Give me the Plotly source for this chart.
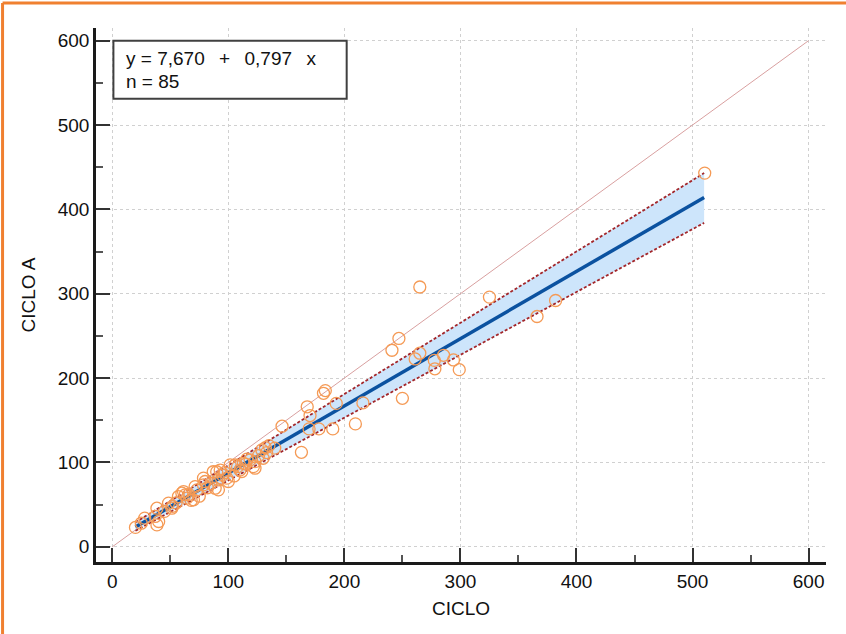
import plotly.graph_objects as go

# ---- data ----
ciclo = [510.5, 382, 366, 325, 265, 299, 278, 294, 285.5, 277.5, 265, 261, 247, 241, 250,
         216, 209.5, 193, 183.6, 182, 168, 170.4, 169.6, 178, 190, 146.3, 163, 140, 132, 133,
         116, 123, 106, 110, 121.6, 123, 101.6, 113, 118.8, 128.9, 111.6, 90, 93, 87, 91.5,
         98.7, 100, 91.5, 88.7, 78.6, 80, 78.6, 73, 70, 62.8, 61.4, 57, 48.5, 38.5, 40,
         20, 28, 38.5, 37, 51.3, 60, 64.3, 71.4, 25, 45, 55, 66, 75, 82, 85, 95,
         97, 105, 108, 115, 126, 130, 135, 68, 52]
ciclo_a = [443, 292, 273, 296, 308, 210, 211, 221.5, 227, 221, 229.5, 222.7, 247, 233, 176,
           170.6, 145.7, 170, 185.2, 182, 166, 155.6, 139.8, 139.8, 139.8, 143, 112, 117, 117.5, 111.7,
           104, 101, 97, 91, 95, 93.2, 97.1, 99, 103, 114.9, 89.2, 89, 91, 89, 79.4,
           81.4, 77.4, 67.5, 69.5, 81.4, 77.4, 73.4, 67.5, 55.7, 61.6, 65.5, 59.6, 51.8, 45.8, 30,
           23, 34, 26, 36, 45.8, 63.6, 57.7, 71.4, 28, 42, 52, 62, 60, 70, 75, 85,
           88, 84, 95, 98, 108, 105, 120, 55, 48]

intercept = 7.670
slope = 0.797
reg_x = [20, 510]
band_x = [20, 510]
band_upper = [29, 443]
band_lower = [19, 384]
identity = [0, 600]
tick_vals = [0, 100, 200, 300, 400, 500, 600]
GAP = "\u00a0\u00a0\u2009"
eq_text = "y = 7,670" + GAP + "+" + GAP + "0,797" + GAP + "x"
n_text = "n = 85"

FONT = "Arial, 'Liberation Sans', sans-serif"
FS = 19
reg_y = [intercept + slope * v for v in reg_x]

fig = go.Figure()
# identity line
fig.add_trace(go.Scatter(x=identity, y=identity, mode="lines",
                         line=dict(color="#D9A0A0", width=1), hoverinfo="skip"))
# confidence band
fig.add_trace(go.Scatter(x=band_x, y=band_lower, mode="lines",
                         line=dict(color="rgba(0,0,0,0)", width=0), hoverinfo="skip"))
fig.add_trace(go.Scatter(x=band_x, y=band_upper, mode="lines", fill="tonexty",
                         fillcolor="#CDE5FB", line=dict(color="rgba(0,0,0,0)", width=0),
                         hoverinfo="skip"))
fig.add_trace(go.Scatter(x=band_x, y=band_upper, mode="lines",
                         line=dict(color="#A3262A", width=1.8, dash="3px,2px")))
fig.add_trace(go.Scatter(x=band_x, y=band_lower, mode="lines",
                         line=dict(color="#A3262A", width=1.8, dash="3px,2px")))
# regression line
fig.add_trace(go.Scatter(x=reg_x, y=reg_y, mode="lines",
                         line=dict(color="#0B52A0", width=3.5)))
# data points
fig.add_trace(go.Scatter(x=ciclo, y=ciclo_a, mode="markers",
                         marker=dict(symbol="circle-open", size=12, color="#F59A55",
                                     line=dict(width=1.3, color="#F59A55"))))

axis_common = dict(
    tickvals=tick_vals, ticks="inside", ticklen=14, tickwidth=2, tickcolor="#333333",
    showline=True, linecolor="#1a1a1a", linewidth=2.5, mirror=False,
    showgrid=True, gridcolor="#D0D0D0", griddash="dot", gridwidth=1,
    zeroline=False, tickfont=dict(family=FONT, size=FS, color="#111111"),
    automargin=False,
    minor=dict(dtick=50, ticks="inside", ticklen=7, tickwidth=1.5, tickcolor="#555555",
               showgrid=False),
)

fig.update_layout(
    width=846, height=634, autosize=False,
    margin=dict(l=96, r=20, t=28, b=72),
    paper_bgcolor="white", plot_bgcolor="white",
    showlegend=False,
    font=dict(family=FONT, size=FS, color="#111111"),
    xaxis=dict(range=[-14, 615], title=dict(text="CICLO", font=dict(family=FONT, size=FS),
                                            standoff=12), **axis_common),
    yaxis=dict(range=[-18, 615], title=dict(text="CICLO A", font=dict(family=FONT, size=FS),
                                            standoff=18), **axis_common),
)

# equation box
fig.add_shape(type="rect", xref="x", yref="y", x0=1, x1=202, y0=531, y1=600,
              line=dict(color="#404040", width=2), fillcolor="white", layer="above")
fig.add_annotation(x=10, y=579, xref="x", yref="y", text=eq_text, showarrow=False,
                   xanchor="left", yanchor="middle", font=dict(family=FONT, size=FS, color="#111"))
fig.add_annotation(x=10, y=552, xref="x", yref="y", text=n_text, showarrow=False,
                   xanchor="left", yanchor="middle", font=dict(family=FONT, size=FS, color="#111"))

# orange frame of the window
fig.add_shape(type="line", xref="paper", yref="paper", x0=-0.128, x1=1.03, y0=1.047, y1=1.047,
              line=dict(color="#F08030", width=3))
fig.add_shape(type="line", xref="paper", yref="paper", x0=-0.128, x1=-0.128, y0=1.047, y1=-0.14,
              line=dict(color="#F08030", width=3))

fig.write_html("out.html", config={"displayModeBar": False},
               post_script="document.body.style.margin='0';document.body.style.overflow='hidden';")
